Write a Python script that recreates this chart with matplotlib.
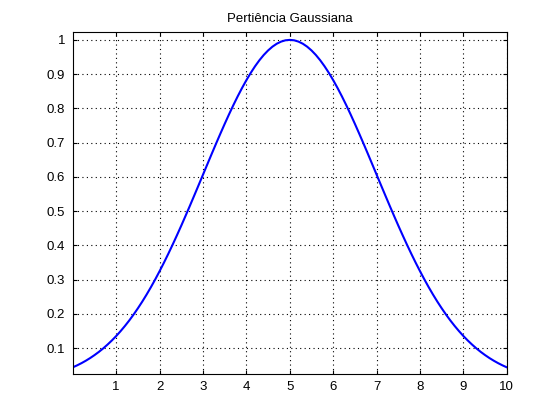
import numpy as np
import matplotlib
matplotlib.use('Agg')
import matplotlib.pyplot as plt

# valores, passo de 0.1 em x
x = [i / 10 for i in range(101)]
y = [0.0439, 0.0497, 0.0561, 0.0632, 0.0710, 0.0796, 0.0889, 0.0991, 0.1103, 0.1223,
     0.1353, 0.1494, 0.1645, 0.1806, 0.1979, 0.2163, 0.2357, 0.2563, 0.2780, 0.3008,
     0.3247, 0.3495, 0.3753, 0.4020, 0.4296, 0.4578, 0.4868, 0.5162, 0.5461, 0.5762,
     0.6065, 0.6368, 0.6670, 0.6968, 0.7261, 0.7548, 0.7827, 0.8096, 0.8353, 0.8596,
     0.8825, 0.9037, 0.9231, 0.9406, 0.9560, 0.9692, 0.9802, 0.9888, 0.9950, 0.9988,
     1.0,
     0.9988, 0.9950, 0.9888, 0.9802, 0.9692, 0.9560, 0.9406, 0.9231, 0.9037, 0.8825,
     0.8596, 0.8353, 0.8096, 0.7827, 0.7548, 0.7261, 0.6968, 0.6670, 0.6368, 0.6065,
     0.5762, 0.5461, 0.5162, 0.4868, 0.4578, 0.4296, 0.4020, 0.3753, 0.3495, 0.3247,
     0.3008, 0.2780, 0.2563, 0.2357, 0.2163, 0.1979, 0.1806, 0.1645, 0.1494, 0.1353,
     0.1223, 0.1103, 0.0991, 0.0889, 0.0796, 0.0710, 0.0632, 0.0561, 0.0497, 0.0439]

x_ticks = [1, 2, 3, 4, 5, 6, 7, 8, 9, 10]
y_ticks = [0.1, 0.2, 0.3, 0.4, 0.5, 0.6, 0.7, 0.8, 0.9, 1]
y_labels = ['0.1', '0.2', '0.3', '0.4', '0.5', '0.6', '0.7', '0.8', '0.9', '1']

plt.rcParams['font.family'] = ['Liberation Sans', 'DejaVu Sans']

fig = plt.figure(figsize=(5.6, 4.2), dpi=100)
ax = fig.add_axes([0.13, 0.11, 0.775, 0.815])

ax.plot(x, y, color='#0000ff', linewidth=1.5)

ax.set_xlim(0, 10)
ax.set_ylim(0.025, 1.0245)
ax.set_xticks(x_ticks)
ax.set_yticks(y_ticks)
ax.set_yticklabels(y_labels)
ax.grid(True, color='black', linestyle=(0, (1, 3)), linewidth=0.8)
ax.tick_params(direction='in', top=True, right=True, length=3,
               width=0.8, labelsize=9.5, pad=5.5)
for s in ax.spines.values():
    s.set_linewidth(0.8)
ax.set_title('Pertiência Gaussiana', fontsize=9.5, pad=6.5)

fig.savefig('out.png', dpi=100)
